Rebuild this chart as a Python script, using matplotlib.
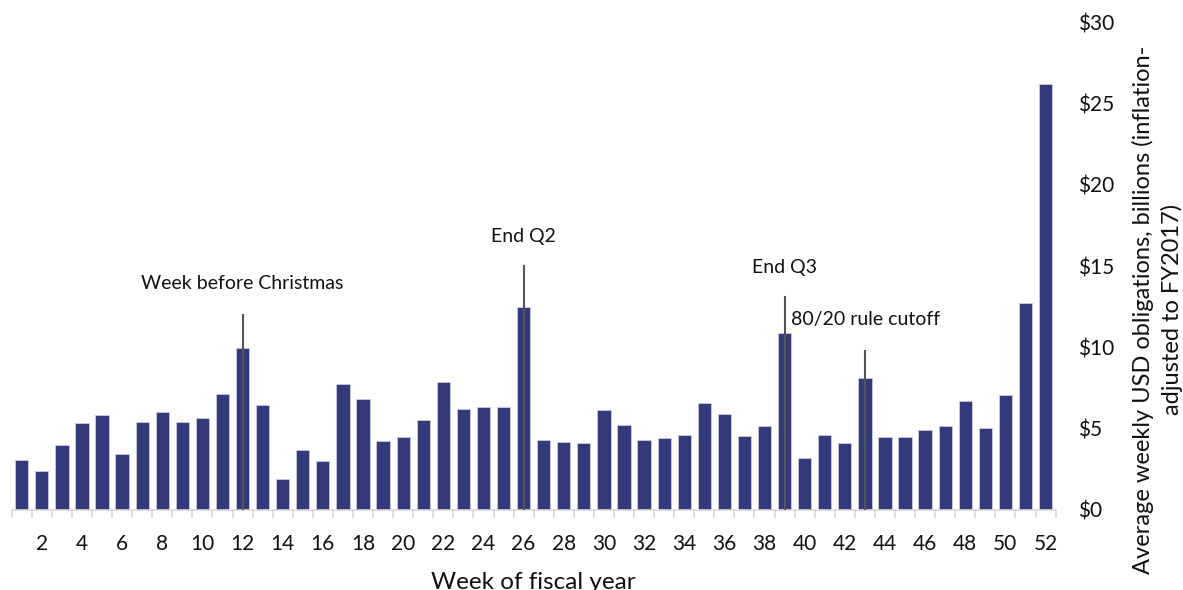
import numpy as np
import matplotlib
matplotlib.use('Agg')
import matplotlib.pyplot as plt
from matplotlib.ticker import FixedLocator, FuncFormatter

plt.rcParams['font.family'] = ['Lato', 'DejaVu Sans']

weeks = list(range(1, 53))
obligations = [3.05, 2.4, 4.0, 5.37, 5.86, 3.46, 5.43, 6.02, 5.39, 5.63,
               7.13, 9.96, 6.47, 1.9, 3.69, 3.01, 7.72, 6.82, 4.24, 4.47,
               5.53, 7.87, 6.2, 6.33, 6.33, 12.5, 4.32, 4.18, 4.12, 6.13,
               5.2, 4.28, 4.4, 4.59, 6.6, 5.92, 4.52, 5.18, 10.9, 3.19,
               4.58, 4.14, 8.1, 4.51, 4.51, 4.93, 5.14, 6.71, 5.07, 7.06,
               12.75, 26.2]

# annotation markers: week, line top, label, label x, label y, alignment
marker_weeks = [12, 26, 39, 43]
marker_tops = [12.0, 15.0, 13.1, 9.75]
label_texts = ['Week before Christmas', 'End Q2', 'End Q3', '80/20 rule cutoff']
label_x = [12, 26, 39, 39.3]
label_y = [13.9, 16.8, 14.9, 11.7]
label_ha = ['center', 'center', 'center', 'left']

bar_color = '#333A7A'

fig = plt.figure(figsize=(11.83, 5.90), dpi=100)
ax = fig.add_axes([0.0099, 0.1356, 0.8824, 0.8271])

ax.bar(weeks, obligations, width=0.66, color=bar_color, edgecolor='#c9cbe0', linewidth=0.6, zorder=2)

for w, top in zip(marker_weeks, marker_tops):
    ax.plot([w, w], [0, top], color='#555555', linewidth=1.5, zorder=3)

for t, x, y, ha in zip(label_texts, label_x, label_y, label_ha):
    ax.text(x, y, t, ha=ha, va='center', fontsize=14, color='#111111')

ax.set_xlim(0.5, 52.5)
ax.set_ylim(0, 30)

# x axis: ticks between categories, labels every other week
ax.xaxis.set_major_locator(FixedLocator(np.arange(0.5, 53, 1)))
ax.xaxis.set_major_formatter(FuncFormatter(lambda v, p: ''))
ax.xaxis.set_minor_locator(FixedLocator(weeks[1::2]))
ax.xaxis.set_minor_formatter(FuncFormatter(lambda v, p: f'{int(round(v))}'))
ax.tick_params(axis='x', which='major', length=6, width=1.2, color='#d9d9d9', direction='out')
ax.tick_params(axis='x', which='minor', length=0, pad=17, labelsize=15, labelcolor='#111111')

# y axis on the right
ax.yaxis.tick_right()
ax.yaxis.set_label_position('right')
ax.set_yticks(range(0, 31, 5))
ax.set_yticklabels([f'${v}' for v in range(0, 31, 5)])
ax.tick_params(axis='y', length=0, pad=16.5, labelsize=15, labelcolor='#111111')

for s in ['top', 'left', 'right']:
    ax.spines[s].set_visible(False)
ax.spines['bottom'].set_color('#d9d9d9')
ax.spines['bottom'].set_linewidth(1.2)

ax.set_xlabel('Week of fiscal year', fontsize=17.5, color='#111111')
ax.xaxis.set_label_coords(0.5, -0.127)
ax.set_ylabel('Average weekly USD obligations, billions (inflation-\nadjusted to FY2017)',
              fontsize=17, color='#111111', multialignment='center', linespacing=1.4)
ax.yaxis.set_label_coords(1.073, 0.41)

fig.savefig('out.png', dpi=100)
